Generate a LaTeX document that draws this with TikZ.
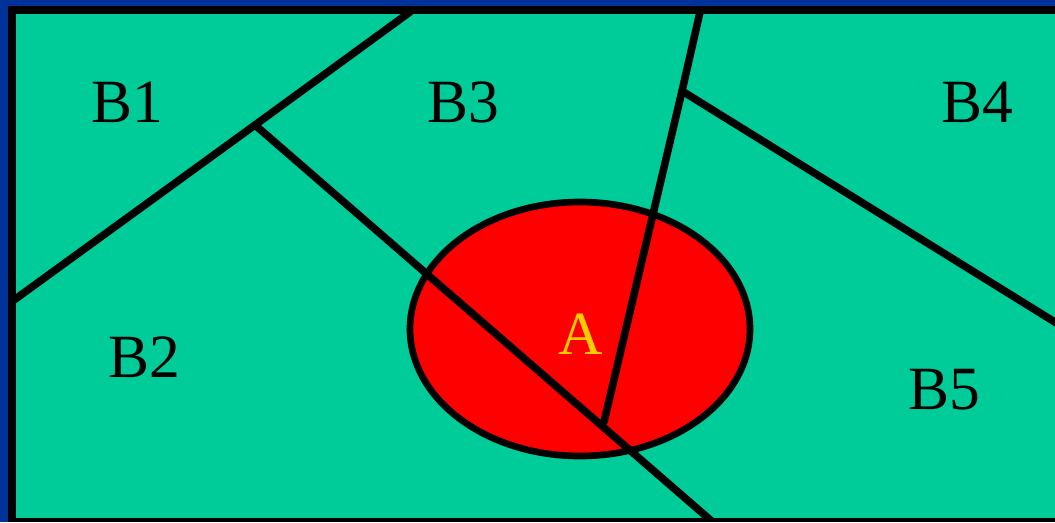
\documentclass[tikz,border=0pt]{standalone}
\usepackage{fontspec}
\setmainfont{Liberation Serif}
\definecolor{frame-blue}{RGB}{0,51,153}
\definecolor{zone-green}{RGB}{0,204,153}
\definecolor{label-yellow}{RGB}{255,204,0}
\usetikzlibrary{positioning}

\begin{document}
\begin{tikzpicture}[
    x=0.02cm, y=-0.02cm,
    border/.style={line width=4.3pt, line cap=round},
    zone/.style={font=\fontsize{35}{38}\selectfont, inner sep=0pt},
    target/.style={zone, text=label-yellow}
]
\useasboundingbox (0,0) rectangle (1055,522);

% frame
\fill[frame-blue] (0,0) rectangle (1055,522);
\fill[black] (8,6) rectangle (1055,522);
\fill[zone-green] (16,14) rectangle (1055,518);

% region A
\filldraw[fill=red, draw=black, line width=3.8pt] (580,329) ellipse [x radius=170, y radius=127];

% boundary points
\coordinate (top1) at (410,12);
\coordinate (left1) at (14,300);
\coordinate (fork1) at (255,125);
\coordinate (bottom1) at (715,524);
\coordinate (top2) at (700,12);
\coordinate (fork2) at (682,91);
\coordinate (meet) at (604,422);
\coordinate (right1) at (1058,324);

\begin{scope}
\clip (16,14) rectangle (1055,518);
\draw[border] (top1) -- (fork1) -- (left1);
\draw[border] (fork1) -- (bottom1);
\draw[border] (top2) -- (fork2) -- (meet);
\draw[border] (fork2) -- (right1);
\end{scope}

\node[zone] (b1) at (127,102) {B1};
\node[zone] (b3) at (463,102) {B3};
\node[zone] (b4) at (977,102) {B4};
\node[zone] (b2) at (144,357) {B2};
\node[zone] (b5) at (944,390) {B5};
\node[target] (a) at (581,334) {A};

\end{tikzpicture}
\end{document}
